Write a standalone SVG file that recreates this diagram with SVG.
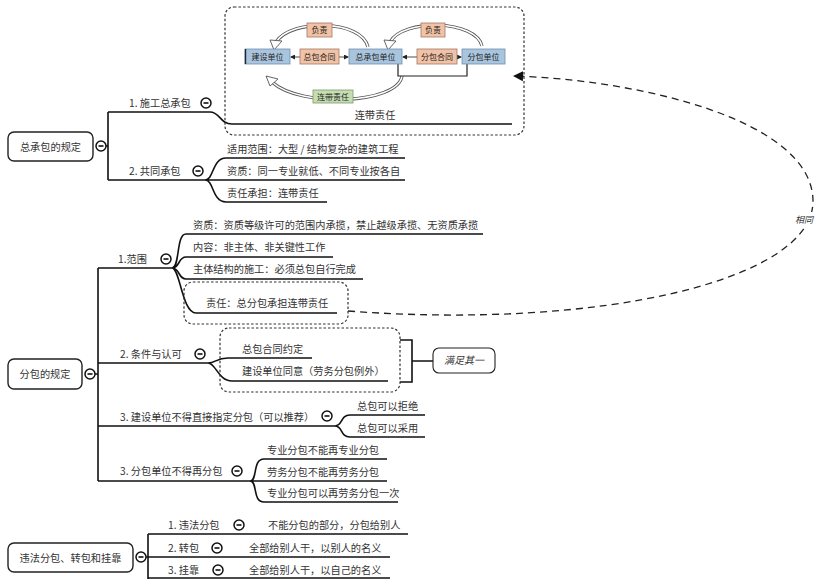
<svg xmlns="http://www.w3.org/2000/svg" width="816" height="579" viewBox="0 0 816 579">
<defs>
<style>
.t{font-family:"Noto Sans CJK SC","Liberation Serif",serif;font-size:10.2px;fill:#333}
.ts{font-family:"Noto Sans CJK SC","Liberation Sans",sans-serif;font-size:8px;fill:#222}
.ln{fill:none;stroke:#111;stroke-width:1.6}
.root{fill:#fff;stroke:#222;stroke-width:1.4}
.dot{fill:none;stroke:#333;stroke-width:1.2;stroke-dasharray:2.5 2}
.blue{fill:#a9c5de;stroke:#6f8fb0;stroke-width:0.8}
.sal{fill:#f2c2a6;stroke:#a07868;stroke-width:0.8}
.grn{fill:#c6ddb2;stroke:#7a9a6a;stroke-width:0.8}
.ho{fill:none;stroke:#555;stroke-width:3.2}
.hi{fill:none;stroke:#fff;stroke-width:1.6}
.hh{fill:#fff;stroke:#555;stroke-width:0.9}
</style>
<marker id="sa" markerWidth="5" markerHeight="5" refX="4" refY="2.5" orient="auto" markerUnits="userSpaceOnUse"><path d="M0,0 L5,2.5 L0,5 z" fill="#222"/></marker>
<marker id="da" markerWidth="10" markerHeight="10" refX="9" refY="5" orient="auto" markerUnits="userSpaceOnUse"><path d="M0,0 L10,5 L0,10 z" fill="#111"/></marker>
<g id="col"><circle r="5" fill="#fff" stroke="#111" stroke-width="1.5"/><line x1="-2.5" y1="0" x2="2.5" y2="0" stroke="#111" stroke-width="1.6"/></g>
</defs>
<rect width="816" height="579" fill="#fff"/>

<g id="connectors">
<path class="ln" d="M106,146 L108,146 M108,112 L108,180 M108,112 L210,112 C220,112 220,124 232,124 L512,124"/>
<path class="ln" d="M108,180 L205,180 C214,180 212,158 226,158 L405,158 M205,180 L405,180 M205,180 C214,180 212,202 226,202 L327,202"/>
<path class="ln" d="M95,374 L98,374 M98,268 L98,481"/>
<path class="ln" d="M98,268 L172,268 C180,268 176,234 186,234 L483,234 M172,268 C180,268 178,257 186,257 L333,257 M172,268 C180,268 178,279 186,279 L363,279 M172,268 C180,268 182,313 196,313 L337,313"/>
<path class="ln" d="M98,363 L208,363 C216,363 216,358 228,358 L312,358 M208,363 C216,363 218,381 232,381 L388,381"/>
<path class="ln" d="M98,426 L335,426 C343,426 340,415 350,415 L425,415 M335,426 C343,426 340,437 350,437 L425,437"/>
<path class="ln" d="M98,481 L250,481 C258,481 252,459 264,459 L387,459 M250,481 L387,481 M250,481 C258,481 252,502 264,502 L398,502"/>
<path class="ln" d="M400,340 L412,340 L412,382 L400,382 M412,361 L433,361"/>
<path class="ln" d="M146,557 L148,557 M148,534 L148,579 M148,534 L408,534 M148,557 L390,557 M148,578 L390,578"/>
<path d="M348,311 C600,330 815,280 813,200 C811,120 640,80 514,76" fill="none" stroke="#222" stroke-width="1.3" stroke-dasharray="7 5" marker-end="url(#da)"/>
<rect x="793" y="212" width="23" height="14" fill="#fff"/>
<text x="804" y="223" text-anchor="middle" style="font-family:'Noto Sans CJK SC',sans-serif;font-size:9px;font-style:italic;fill:#333">相同</text>
</g>

<g id="n-root1">
<rect class="root" x="8" y="132" width="85" height="29" rx="6"/>
<text class="t" x="50.5" y="150.5" text-anchor="middle">总承包的规定</text>
<use href="#col" x="101" y="146"/>
</g>
<g id="n-zcb">
<text class="t" x="129" y="107">1. 施工总承包</text>
<use href="#col" x="206" y="103"/>
</g>
<g id="n-box">
<rect class="dot" x="225" y="7" width="299" height="128" rx="9"/>
<text class="t" x="375" y="119" text-anchor="middle">连带责任</text>
</g>
<g id="n-inner">
<path class="ho" d="M368,47 C362,20 292,18 276,42"/>
<path class="hi" d="M368,47 C362,20 292,18 276,42"/>
<path class="hh" d="M270,40 L282,41 L274,50 z"/>
<path class="ho" d="M482,46 C476,20 404,18 390,42"/>
<path class="hi" d="M482,46 C476,20 404,18 390,42"/>
<path class="hh" d="M384,40 L396,41 L388,50 z"/>
<path class="ho" d="M402,76 C398,104 300,108 272,82"/>
<path class="hi" d="M402,76 C398,104 300,108 272,82"/>
<path class="hh" d="M266,76 L278,79 L270,86 z"/>
<path d="M398,64 L398,76 L467,76 L467,64" fill="none" stroke="#222" stroke-width="1.2"/>
<line x1="300" y1="57" x2="291" y2="57" stroke="#222" stroke-width="0.8" marker-end="url(#sa)"/>
<line x1="339" y1="57" x2="348" y2="57" stroke="#222" stroke-width="0.8" marker-end="url(#sa)"/>
<line x1="417" y1="57" x2="403" y2="57" stroke="#222" stroke-width="0.8" marker-end="url(#sa)"/>
<line x1="457" y1="57" x2="461" y2="57" stroke="#222" stroke-width="0.8" marker-end="url(#sa)"/>
<rect class="blue" x="245" y="49" width="45" height="15"/>
<line x1="245.5" y1="49" x2="245.5" y2="64" stroke="#223" stroke-width="1.4"/>
<text class="ts" x="267.5" y="59.8" text-anchor="middle">建设单位</text>
<rect class="sal" x="300" y="49" width="39" height="15"/>
<text class="ts" x="319.5" y="59.8" text-anchor="middle">总包合同</text>
<rect class="blue" x="349" y="49" width="53" height="15"/>
<text class="ts" x="375.5" y="59.8" text-anchor="middle">总承包单位</text>
<rect class="sal" x="417" y="49" width="40" height="15"/>
<text class="ts" x="437" y="59.8" text-anchor="middle">分包合同</text>
<rect class="blue" x="462" y="49" width="43" height="15"/>
<text class="ts" x="483.5" y="59.8" text-anchor="middle">分包单位</text>
<rect class="sal" x="307" y="23" width="25" height="14"/>
<text class="ts" x="319.5" y="33.2" text-anchor="middle">负责</text>
<rect class="sal" x="421" y="23" width="24" height="14"/>
<text class="ts" x="433" y="33.2" text-anchor="middle">负责</text>
<rect class="grn" x="313" y="90" width="40" height="13"/>
<text class="ts" x="333" y="99.8" text-anchor="middle">连带责任</text>
</g>
<g id="n-gt">
<text class="t" x="129" y="175">2. 共同承包</text>
<use href="#col" x="198" y="171"/>
</g>
<g id="n-gt-items">
<text class="t" x="227" y="153">适用范围：大型 / 结构复杂的建筑工程</text>
<text class="t" x="227" y="175">资质：同一专业就低、不同专业按各自</text>
<text class="t" x="227" y="197">责任承担：连带责任</text>
</g>

<g id="n-root2">
<rect class="root" x="8" y="359" width="74" height="30" rx="6"/>
<text class="t" x="45" y="378" text-anchor="middle">分包的规定</text>
<use href="#col" x="90" y="374"/>
</g>
<g id="n-fw">
<text class="t" x="118" y="263">1.范围</text>
<use href="#col" x="166" y="259"/>
<text class="t" x="193" y="229">资质：资质等级许可的范围内承揽，禁止越级承揽、无资质承揽</text>
<text class="t" x="193" y="251">内容：非主体、非关键性工作</text>
<text class="t" x="193" y="273">主体结构的施工：必须总包自行完成</text>
<rect class="dot" x="184" y="282" width="164" height="42" rx="9"/>
<text class="t" x="206" y="307">责任：总分包承担连带责任</text>
</g>
<g id="n-tj">
<text class="t" x="120" y="358">2. 条件与认可</text>
<use href="#col" x="200" y="354"/>
<rect class="dot" x="220" y="328" width="180" height="64" rx="9"/>
<text class="t" x="242" y="353">总包合同约定</text>
<text class="t" x="242" y="375">建设单位同意（劳务分包例外）</text>
</g>
<g id="n-mz">
<rect class="root" x="433" y="348" width="62" height="25" rx="6" style="stroke-width:1.1"/>
<text x="464" y="364" text-anchor="middle" style="font-family:'Noto Sans CJK SC',serif;font-size:10px;font-style:italic;fill:#333">满足其一</text>
</g>
<g id="n-zd">
<text class="t" x="120" y="421">3. 建设单位不得直接指定分包（可以推荐）</text>
<use href="#col" x="327" y="416"/>
<text class="t" x="357" y="410">总包可以拒绝</text>
<text class="t" x="357" y="432">总包可以采用</text>
</g>
<g id="n-zf">
<text class="t" x="120" y="475">3. 分包单位不得再分包</text>
<use href="#col" x="237" y="471"/>
<text class="t" x="267" y="454">专业分包不能再专业分包</text>
<text class="t" x="267" y="476">劳务分包不能再劳务分包</text>
<text class="t" x="267" y="497">专业分包可以再劳务分包一次</text>
</g>

<g id="n-root3">
<rect class="root" x="8" y="543" width="125" height="29" rx="6"/>
<text class="t" x="70.5" y="561.5" text-anchor="middle">违法分包、转包和挂靠</text>
<use href="#col" x="141" y="557"/>
</g>
<g id="n-wf">
<text class="t" x="168" y="529">1. 违法分包</text>
<use href="#col" x="239" y="525"/>
<text class="t" x="268" y="529">不能分包的部分，分包给别人</text>
</g>
<g id="n-zb">
<text class="t" x="168" y="552">2. 转包</text>
<use href="#col" x="217" y="548"/>
<text class="t" x="249" y="552">全部给别人干，以别人的名义</text>
</g>
<g id="n-gk">
<text class="t" x="168" y="574">3. 挂靠</text>
<use href="#col" x="218" y="570"/>
<text class="t" x="249" y="574">全部给别人干，以自己的名义</text>
</g>
</svg>
